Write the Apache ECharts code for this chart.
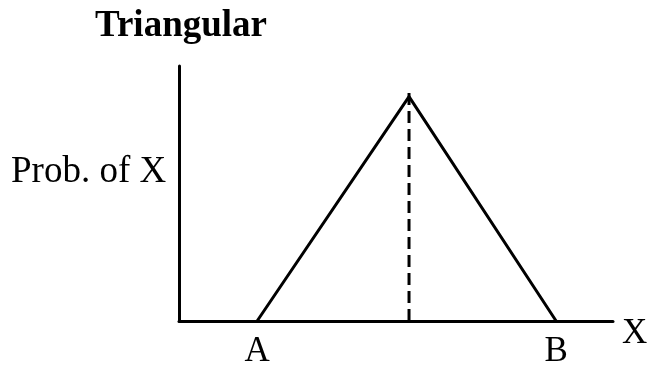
<!DOCTYPE html>
<html>
<head>
<meta charset="utf-8">
<script src="https://cdn.jsdelivr.net/npm/echarts@6/dist/echarts.min.js"></script>
<style>
  html, body { margin: 0; padding: 0; background: #fff; }
  #chart { width: 650px; height: 366px; }
</style>
</head>
<body>
<div id="chart"></div>
<script>
// triangle outline: A, mode, B
const triX = [1.8, 5.3, 8.69];
const triY = [0, 0.88, 0];
// dashed drop line from the mode
const modeX = [5.3, 5.3];
const modeY = [0, 0.905];
// labels under the x axis
const tickValues = [1.8, 8.69];
const tickNames = ["A", "B"];

const serif = "'Liberation Serif', 'Times New Roman', serif";

const chart = echarts.init(document.getElementById("chart"), null, { renderer: "canvas" });

chart.setOption({
  animation: false,
  backgroundColor: "#fff",
  title: {
    text: "Triangular",
    left: 90,
    top: 3,
    textStyle: { fontFamily: serif, fontSize: 37, fontWeight: "bold", color: "#000" }
  },
  graphic: [
    {
      type: "text",
      left: 11,
      top: 154,
      style: { text: "Prob. of X", font: "37px " + serif, fill: "#000" }
    }
  ],
  grid: { left: 179, right: 37, top: 66, bottom: 45, outerBoundsMode: "none", containLabel: false },
  xAxis: {
    type: "value",
    min: 0,
    max: 10,
    name: "X",
    nameLocation: "end",
    nameGap: 9,
    nameTextStyle: { fontFamily: serif, fontSize: 35, color: "#000", align: "left", verticalAlign: "top", padding: [-5, 0, 0, 0] },
    axisLine: { show: true, onZero: false, lineStyle: { color: "#000", width: 3 } },
    axisTick: { show: false },
    splitLine: { show: false },
    axisLabel: {
      customValues: tickValues,
      formatter: (v) => tickNames[tickValues.indexOf(v)] || "",
      fontFamily: serif,
      fontSize: 35,
      color: "#000",
      margin: 13
    }
  },
  yAxis: {
    type: "value",
    min: 0,
    max: 1,
    axisLine: { show: true, onZero: false, lineStyle: { color: "#000", width: 3 } },
    axisTick: { show: false },
    axisLabel: { show: false },
    splitLine: { show: false }
  },
  series: [
    {
      type: "line",
      data: triX.map((x, i) => [x, triY[i]]),
      showSymbol: false,
      lineStyle: { color: "#000", width: 3 }
    },
    {
      type: "line",
      data: modeX.map((x, i) => [x, modeY[i]]),
      showSymbol: false,
      lineStyle: { color: "#000", width: 3, type: [12, 6] }
    }
  ]
});
</script>
</body>
</html>
